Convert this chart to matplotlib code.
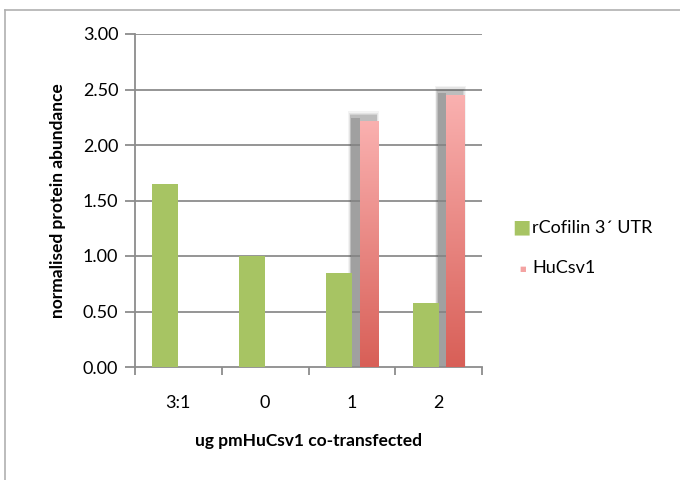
import numpy as np
import matplotlib
matplotlib.use("Agg")
import matplotlib.pyplot as plt
from matplotlib.patches import Rectangle
from matplotlib.colors import LinearSegmentedColormap

plt.rcParams["font.family"] = ["Lato", "DejaVu Sans"]

categories = ["3:1", "0", "1", "2"]
cofilin = [1.65, 1.00, 0.85, 0.58]
hucsv1 = [np.nan, np.nan, 2.22, 2.45]
yticks = [0.0, 0.5, 1.0, 1.5, 2.0, 2.5, 3.0]

green = "#A7C463"
pink_cmap = LinearSegmentedColormap.from_list("pink", ["#D85F57", "#FAB1B0"])

fig = plt.figure(figsize=(6.8, 4.8), dpi=100)
ax = fig.add_axes([135 / 680, 1 - 367 / 480, 347 / 680, 333 / 480])

# chart border (Excel style, cropped at right/bottom)
fig.add_artist(plt.Line2D([5 / 680, 5 / 680], [0, 1 - 9.5 / 480],
                          transform=fig.transFigure, color="#b0b0b0", lw=1.2))
fig.add_artist(plt.Line2D([5 / 680, 1], [1 - 9.5 / 480, 1 - 9.5 / 480],
                          transform=fig.transFigure, color="#b0b0b0", lw=1.2))

x = np.arange(len(categories)) + 0.5
w = 0.30

for yv in yticks[1:]:
    ax.axhline(yv, color="#8c8c8c", lw=1.3, zorder=1)

ax.bar(x - w / 2, cofilin, width=w, color=green, zorder=3, label="rCofilin 3\u00b4 UTR")

grad = np.linspace(0, 1, 256).reshape(-1, 1)
for xi, v in zip(x, hucsv1):
    if np.isnan(v):
        continue
    left = xi + 0.09
    right = xi + w
    # soft shadow, mostly on the left side and above the top
    for pad, a in [(0.035, 0.07), (0.025, 0.09), (0.015, 0.12), (0.006, 0.16)]:
        ax.add_patch(Rectangle((xi - 0.01 - pad, 0), right - xi + 0.01 + 2 * pad - 0.02,
                               v + 0.04 + pad * 1.2, color="#555555",
                               alpha=a, lw=0, zorder=2))
    ax.add_patch(Rectangle((xi - 0.005, 0), left - xi + 0.005, v + 0.02,
                           color="#8e8e8e", alpha=0.6, lw=0, zorder=2))
    rect = Rectangle((left, 0), right - left, v, lw=0, facecolor="none", zorder=4)
    ax.add_patch(rect)
    im = ax.imshow(grad, cmap=pink_cmap, aspect="auto", origin="lower",
                   extent=(left, right, 0, v), zorder=4)
    im.set_clip_path(rect)

ax.set_xlim(0, 4)
ax.set_ylim(0, 3.0)
ax.set_yticks(yticks)
ax.set_yticklabels([f"{t:.2f}" for t in yticks], fontsize=13)
ax.set_xticks(np.arange(0, 5))
ax.set_xticklabels([])
ax.set_xticks(x, minor=True)
ax.set_xticklabels(categories, minor=True, fontsize=13)
ax.tick_params(axis="x", which="major", length=6, color="#8c8c8c", width=1.3)
ax.tick_params(axis="x", which="minor", length=0, pad=20)
ax.tick_params(axis="y", length=7, color="#8c8c8c", width=1.3, pad=5)

for s in ["top", "right"]:
    ax.spines[s].set_visible(False)
for s in ["left", "bottom"]:
    ax.spines[s].set_color("#8c8c8c")
    ax.spines[s].set_linewidth(1.3)

ax.set_ylabel("normalised protein abundance", fontsize=12.5, fontweight="bold", labelpad=12)
ax.set_xlabel("ug pmHuCsv1 co-transfected", fontsize=12.5, fontweight="bold", labelpad=16)

# legend
fig.text(512 / 680, 1 - 227 / 480, "\u25a0", color=green, fontsize=14,
         ha="left", va="center", family="DejaVu Sans")
fig.text(532 / 680, 1 - 228 / 480, "rCofilin 3\u00b4 UTR", fontsize=13,
         ha="left", va="center")
fig.text(523 / 680, 1 - 269 / 480, "\u25a0", color="#F4A3A2", fontsize=5,
         ha="center", va="center", family="DejaVu Sans")
fig.text(532 / 680, 1 - 268 / 480, "HuCsv1", fontsize=13, ha="left", va="center")

fig.savefig("out.png", dpi=100)
